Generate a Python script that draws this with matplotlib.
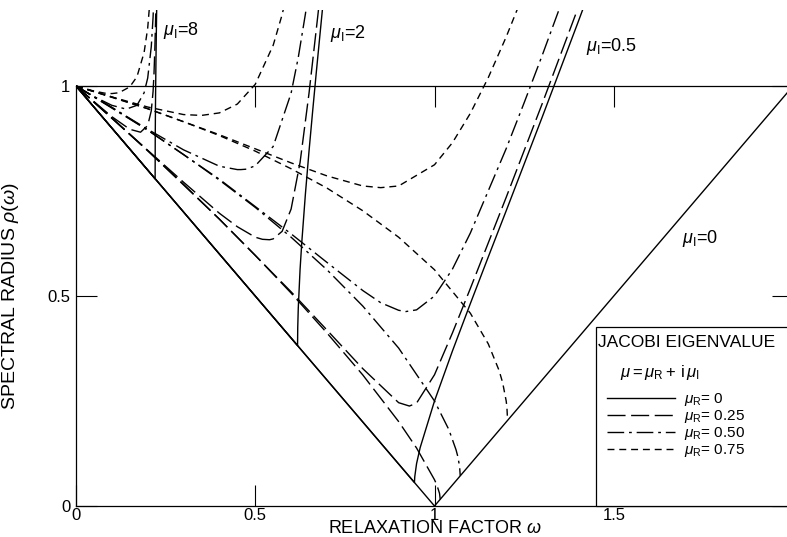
import matplotlib.pyplot as plt
from matplotlib.lines import Line2D
from matplotlib.patches import Rectangle

plt.rcParams['font.family'] = ['Liberation Sans', 'DejaVu Sans']
plt.rcParams['mathtext.fontset'] = 'custom'
plt.rcParams['mathtext.rm'] = 'Liberation Sans'
plt.rcParams['mathtext.it'] = 'Liberation Sans:italic'

# spectral radius rho(omega)
# mu_R = 0
w_r0_i0 = [0, 1, 2]
rho_r0_i0 = [1, 0, 1]
w_r0_i05 = [0, 0.944, 0.945, 0.95, 0.96, 1.0, 1.05, 1.1, 1.15, 1.2, 1.25, 1.3, 1.35, 1.4, 1.42]
rho_r0_i05 = [1, 0.056, 0.070, 0.101, 0.139, 0.25, 0.369, 0.482, 0.593, 0.703, 0.814, 0.925, 1.038, 1.151, 1.197]
w_r0_i2 = [0, 0.618, 0.6185, 0.62, 0.625, 0.63, 0.64, 0.65, 0.66, 0.67, 0.68, 0.69]
rho_r0_i2 = [1, 0.382, 0.424, 0.471, 0.563, 0.630, 0.744, 0.845, 0.939, 1.030, 1.118, 1.205]
w_r0_i8 = [0, 0.2207, 0.221, 0.2215, 0.222, 0.223, 0.224, 0.225]
rho_r0_i8 = [1, 0.779, 0.872, 0.934, 0.981, 1.058, 1.123, 1.182]

# mu_R = 0.25
w_r25_i0 = [0, 0.1, 0.2, 0.3, 0.4, 0.5, 0.6, 0.7, 0.8, 0.9, 0.95, 1.0, 1.005, 1.01, 1.014, 1.016]
rho_r25_i0 = [1, 0.924, 0.846, 0.766, 0.683, 0.597, 0.507, 0.412, 0.312, 0.201, 0.138, 0.0625, 0.053, 0.041, 0.030, 0.016]
w_r25_i05 = [0, 0.2, 0.4, 0.6, 0.7, 0.8, 0.9, 0.93, 0.95, 1.0, 1.05, 1.1, 1.2, 1.3, 1.35, 1.4]
rho_r25_i05 = [1, 0.846, 0.683, 0.510, 0.419, 0.327, 0.246, 0.238, 0.245, 0.3125, 0.412, 0.518, 0.735, 0.957, 1.071, 1.185]
w_r25_i2 = [0, 0.1, 0.2, 0.3, 0.4, 0.45, 0.5, 0.52, 0.54, 0.55, 0.575, 0.6, 0.625, 0.65, 0.675, 0.68]
rho_r25_i2 = [1, 0.924, 0.847, 0.771, 0.697, 0.665, 0.640, 0.635, 0.634, 0.636, 0.654, 0.707, 0.818, 0.983, 1.171, 1.210]
w_r25_i8 = [0, 0.05, 0.1, 0.15, 0.18, 0.2, 0.21, 0.215, 0.2175, 0.22, 0.2225]
rho_r25_i8 = [1, 0.963, 0.927, 0.897, 0.890, 0.906, 0.941, 0.987, 1.028, 1.090, 1.173]

# mu_R = 0.50
w_r50_i0 = [0, 0.1, 0.2, 0.3, 0.4, 0.5, 0.6, 0.7, 0.8, 0.9, 1.0, 1.04, 1.06, 1.065, 1.07, 1.0718]
rho_r50_i0 = [1, 0.949, 0.895, 0.837, 0.776, 0.711, 0.640, 0.5625, 0.476, 0.376, 0.25, 0.182, 0.134, 0.118, 0.094, 0.072]
w_r50_i05 = [0, 0.2, 0.4, 0.6, 0.7, 0.8, 0.85, 0.9, 0.92, 0.95, 1.0, 1.05, 1.1, 1.2, 1.25, 1.3, 1.35]
rho_r50_i05 = [1, 0.895, 0.778, 0.648, 0.580, 0.513, 0.484, 0.466, 0.463, 0.467, 0.5, 0.564, 0.650, 0.851, 0.960, 1.072, 1.188]
w_r50_i2 = [0, 0.1, 0.2, 0.3, 0.4, 0.45, 0.46, 0.475, 0.5, 0.55, 0.6, 0.62, 0.64, 0.65]
rho_r50_i2 = [1, 0.949, 0.897, 0.848, 0.809, 0.801, 0.801, 0.802, 0.810, 0.856, 0.983, 1.068, 1.172, 1.231]
w_r50_i8 = [0, 0.05, 0.1, 0.14, 0.17, 0.19, 0.2, 0.21, 0.215, 0.22]
rho_r50_i8 = [1, 0.975, 0.954, 0.945, 0.954, 0.984, 1.019, 1.094, 1.164, 1.270]

# mu_R = 0.75
w_r75_i0 = [0, 0.1, 0.2, 0.3, 0.4, 0.5, 0.6, 0.7, 0.8, 0.9, 1.0, 1.1, 1.15, 1.18, 1.19, 1.2, 1.202, 1.2038]
rho_r75_i0 = [1, 0.974, 0.946, 0.915, 0.882, 0.845, 0.803, 0.757, 0.703, 0.64, 0.5625, 0.459, 0.386, 0.323, 0.294, 0.25, 0.235, 0.204]
w_r75_i05 = [0, 0.2, 0.4, 0.6, 0.7, 0.8, 0.85, 0.9, 1.0, 1.05, 1.1, 1.15, 1.2, 1.25]
rho_r75_i05 = [1, 0.946, 0.884, 0.817, 0.786, 0.762, 0.758, 0.762, 0.8125, 0.865, 0.935, 1.020, 1.117, 1.223]
w_r75_i2 = [0, 0.1, 0.2, 0.3, 0.35, 0.4, 0.45, 0.5, 0.55, 0.575, 0.6]
rho_r75_i2 = [1, 0.974, 0.950, 0.932, 0.930, 0.936, 0.957, 1.004, 1.097, 1.170, 1.264]
w_r75_i8 = [0, 0.05, 0.08, 0.1, 0.12, 0.15, 0.17, 0.19, 0.2, 0.21]
rho_r75_i8 = [1, 0.988, 0.983, 0.982, 0.984, 0.998, 1.022, 1.080, 1.138, 1.242]

mu_r_labels = ['0', '0.25', '0.50', '0.75']
styles = ['-', (0, (13, 4)), (0, (12, 3.5, 2, 3.5)), (0, (5, 3.5))]

curves = [
    [(w_r0_i0, rho_r0_i0), (w_r0_i05, rho_r0_i05), (w_r0_i2, rho_r0_i2), (w_r0_i8, rho_r0_i8)],
    [(w_r25_i0, rho_r25_i0), (w_r25_i05, rho_r25_i05), (w_r25_i2, rho_r25_i2), (w_r25_i8, rho_r25_i8)],
    [(w_r50_i0, rho_r50_i0), (w_r50_i05, rho_r50_i05), (w_r50_i2, rho_r50_i2), (w_r50_i8, rho_r50_i8)],
    [(w_r75_i0, rho_r75_i0), (w_r75_i05, rho_r75_i05), (w_r75_i2, rho_r75_i2), (w_r75_i8, rho_r75_i8)],
]

fig = plt.figure(figsize=(7.87, 5.37), dpi=100)
ax = fig.add_axes([76 / 787, 31 / 537, 717 / 787, 496 / 537])

for group, ls in zip(curves, styles):
    for w, r in group:
        ax.plot(w, r, color='black', lw=1.0, linestyle=ls)

ax.set_xlim(0, 2)
ax.set_ylim(0, 1.181)
ax.spines['top'].set_visible(False)
ax.spines['left'].set_bounds(0, 1)
ax.spines['right'].set_bounds(0, 1)
for s in ax.spines.values():
    s.set_linewidth(0.9)
ax.set_xticks([0, 0.5, 1, 1.5, 2], ['0', '0.5', '1', '1.5', '2'])
ax.set_yticks([0, 0.5, 1], ['0', '0.5', '1'])
ax.tick_params(direction='in', length=15, width=0.8, right=True, labelsize=12, pad=4)
ax.tick_params(axis='x', pad=1.5)

# line at rho = 1 with hanging ticks
top = ax.secondary_xaxis(1.0, transform=ax.transData)
top.set_xticks([0.5, 1, 1.5])
top.tick_params(direction='in', length=15, width=0.8, labeltop=False, labelbottom=False)
top.spines['top'].set_linewidth(0.9)

ax.set_xlabel(r'RELAXATION FACTOR $\omega$', fontsize=13)
ax.xaxis.set_label_coords(0.5, -0.029)
ax.set_ylabel(r'SPECTRAL RADIUS $\rho(\omega)$', fontsize=14)
ax.yaxis.set_label_coords(-0.077, 0.5 / 1.181)

ax.text(0.242, 1.133, r'$\mu_{\rm I}$=8', fontsize=13, va='center')
ax.text(0.708, 1.126, r'$\mu_{\rm I}$=2', fontsize=13, va='center')
ax.text(1.423, 1.093, r'$\mu_{\rm I}$=0.5', fontsize=13, va='center')
ax.text(1.69, 0.638, r'$\mu_{\rm I}$=0', fontsize=13, va='center')

# legend box
ax.add_patch(Rectangle((1.451, 0), 0.6, 0.426, transform=ax.transData, fc='white',
                       ec='black', lw=0.9, clip_on=False, zorder=3))
ax.text(1.457, 0.390, 'JACOBI EIGENVALUE', fontsize=12.5, va='center', zorder=4)
ax.text(1.627, 0.319, r'$\mu=\mu_{\rm R}+\,{\rm i}\,\mu_{\rm I}$', fontsize=12,
        ha='center', va='center', zorder=4)
handles = [Line2D([], [], color='black', lw=1.0, linestyle=ls) for ls in styles]
labels = [r'$\mu_{\rm R}$= ' + v for v in mu_r_labels]
leg = ax.legend(handles, labels, loc='upper left', bbox_to_anchor=(1.482, 0.274),
                bbox_transform=ax.transData, frameon=False, borderpad=0, borderaxespad=0,
                handlelength=4.4, handletextpad=0.6, labelspacing=0.0, fontsize=11)
leg.set_zorder(4)

fig.savefig('out.png', dpi=100)
